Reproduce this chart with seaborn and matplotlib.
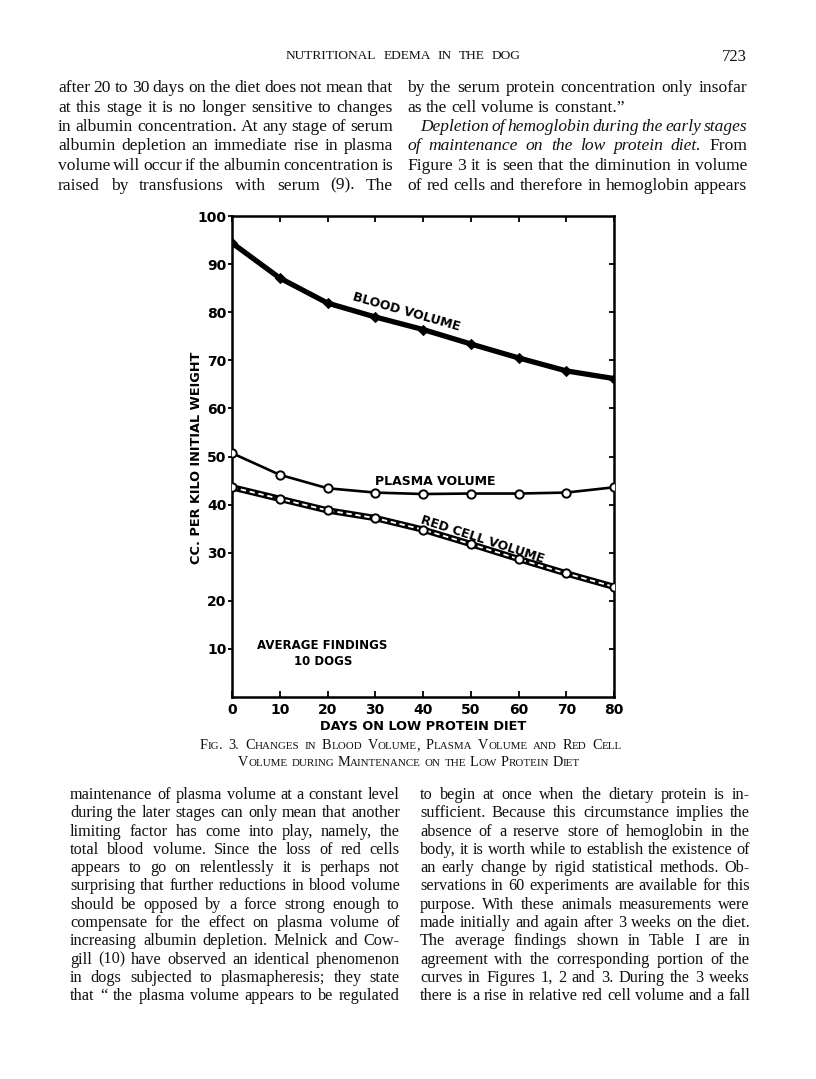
import matplotlib
matplotlib.use("Agg")
import matplotlib.pyplot as plt
import seaborn as sns

# ---------------- data ----------------
days = [0, 10, 20, 30, 40, 50, 60, 70, 80]
blood_volume = [94.4, 87.1, 81.9, 79.0, 76.4, 73.4, 70.5, 67.8, 66.2]
plasma_volume = [50.7, 46.2, 43.4, 42.5, 42.2, 42.3, 42.3, 42.5, 43.6]
red_cell_volume = [43.6, 41.2, 38.8, 37.2, 34.8, 31.8, 28.7, 25.7, 22.9]
x_ticks = [0, 10, 20, 30, 40, 50, 60, 70, 80]
y_ticks = [10, 20, 30, 40, 50, 60, 70, 80, 90, 100]

W, H = 816, 1079
sns.set_theme(style="white")
plt.rcParams["font.family"] = ["DejaVu Sans"]

fig = plt.figure(figsize=(W / 100, H / 100), dpi=100)
fig.patch.set_facecolor("white")

# axes box in page pixels
L, R, T, B = 232, 614, 216, 697
ax = fig.add_axes([L / W, 1 - B / H, (R - L) / W, (B - T) / H])
ax.set_facecolor("white")

sns.lineplot(x=days, y=blood_volume, ax=ax, color="black", linewidth=3.8,
             marker="D", markersize=5, markerfacecolor="black",
             markeredgecolor="black", zorder=3)
sns.lineplot(x=days, y=plasma_volume, ax=ax, color="black", linewidth=1.9,
             marker="o", markersize=6, markerfacecolor="white",
             markeredgecolor="black", markeredgewidth=1.4, zorder=3)
sns.lineplot(x=days, y=red_cell_volume, ax=ax, color="black", linewidth=4.6,
             zorder=3)
sns.lineplot(x=days, y=red_cell_volume, ax=ax, color="white", linewidth=1.3,
             linestyle=(0, (3, 2)), marker="o", markersize=6,
             markerfacecolor="white", markeredgecolor="black",
             markeredgewidth=1.4, zorder=4)

ax.set_xlim(0, 80)
ax.set_ylim(0, 100)
for s in ax.spines.values():
    s.set_visible(True)
    s.set_color("black")
    s.set_linewidth(1.8)

tick_font = dict(fontsize=10, fontweight="heavy", color="black")
ax.set_xticks(x_ticks)
ax.set_xticklabels([str(v) for v in x_ticks], **tick_font)
ax.set_yticks(y_ticks)
ax.set_yticklabels([str(v) for v in y_ticks], **tick_font)
ax.tick_params(axis="x", direction="in", bottom=True, top=True, length=4,
               width=1.3, color="black", pad=4)
ax.tick_params(axis="y", direction="out", left=True, right=False, length=3,
               width=1.3, color="black", pad=1)
ax.set_xlabel("")
ax.set_ylabel("")

ax2 = ax.twinx()
ax2.set_ylim(0, 100)
ax2.set_yticks(y_ticks[:-1])
ax2.tick_params(axis="y", direction="in", right=True, left=False,
                labelright=False, length=3.5, width=1.3, color="black")
for s in ax2.spines.values():
    s.set_visible(False)

lab = dict(fontweight="heavy", color="black")
ax.text(36.6, 80.0, "BLOOD VOLUME", rotation=-16, ha="center", va="center",
        rotation_mode="anchor", fontsize=9, **lab)
ax.text(42.5, 44.9, "PLASMA VOLUME", ha="center", va="center", fontsize=9, **lab)
ax.text(52.4, 32.8, "RED CELL VOLUME", rotation=-18, ha="center", va="center",
        rotation_mode="anchor", fontsize=9, **lab)
ax.text(18.8, 10.8, "AVERAGE FINDINGS", ha="center", va="center", fontsize=8.5, **lab)
ax.text(19.1, 7.3, "10 DOGS", ha="center", va="center", fontsize=8.5, **lab)

fig.text(196 / W, 1 - 458 / H, "CC. PER KILO INITIAL WEIGHT", rotation=90,
         ha="center", va="center", fontsize=9.3, **lab)
fig.text(423 / W, 1 - 726 / H, "DAYS ON LOW PROTEIN DIET", ha="center",
         va="center", fontsize=9.3, **lab)

# ---------------- page text ----------------
renderer = fig.canvas.get_renderer()
SERIF = "Liberation Serif"
INK = "#111111"


def measure(s, **p):
    t = fig.text(0, 0, s, **p)
    w = t.get_window_extent(renderer).width
    t.remove()
    return w


def put(s, x, y, **p):
    fig.text(x / W, 1 - y / H, s, ha="left", va="baseline", color=INK, **p)


def words(text, **p):
    return [[(w, dict(p))] for w in text.split()]


def smallcaps(text, big=10.0, small=7.7):
    out = []
    for w in text.split():
        runs = []
        for ch in w:
            sz = small if ch.islower() else big
            c = ch.upper()
            if runs and runs[-1][1]["fontsize"] == sz:
                runs[-1] = (runs[-1][0] + c, runs[-1][1])
            else:
                runs.append((c, dict(family=SERIF, fontsize=sz)))
        out.append(runs)
    return out


def line(ws, y, x0, x1=None, mode="left", cx=None):
    widths = [sum(measure(s, **p) for s, p in w) for w in ws]
    p0 = ws[0][0][1]
    sp = measure("a a", **p0) - measure("aa", **p0)
    if mode == "justify" and len(ws) > 1:
        need = sum(widths) + 0.6 * sp * (len(ws) - 1)
        if need > (x1 - x0):
            k = (x1 - x0) / need
            for w in ws:
                for _, p in w:
                    p["fontsize"] = p["fontsize"] * k
            widths = [sum(measure(s, **p) for s, p in w) for w in ws]
        gap = (x1 - x0 - sum(widths)) / (len(ws) - 1)
        x = x0
    elif mode == "center":
        gap = sp
        total = sum(widths) + gap * (len(ws) - 1)
        x = cx - total / 2
    else:
        gap = sp
        x = x0
    for w, wd in zip(ws, widths):
        xx = x
        for s, p in w:
            put(s, xx, y, **p)
            xx += measure(s, **p)
        x += wd + gap


# header
line(words("NUTRITIONAL  EDEMA  IN  THE  DOG", family=SERIF, fontsize=9.6), 59,
     286, 520, mode="justify")
line(words("723", family=SERIF, fontsize=12), 61, 722)

rom = dict(family=SERIF, fontsize=12.6)
ita = dict(family=SERIF, fontsize=12.6, style="italic")

top_left = [
    "after 20 to 30 days on the diet does not mean that",
    "at this stage it is no longer sensitive to changes",
    "in albumin concentration. At any stage of serum",
    "albumin depletion an immediate rise in plasma",
    "volume will occur if the albumin concentration is",
    "raised by transfusions with serum (9). The",
]
top_y = [92, 111.5, 131, 150.5, 170, 189.5]
for s, y in zip(top_left, top_y):
    line(words(s, **rom), y, 58, 393, mode="justify")

line(words("by the serum protein concentration only insofar", **rom), top_y[0], 407, 747, mode="justify")
line(words("as the cell volume is constant.\u201d", **rom), top_y[1], 407)
line(words("Depletion of hemoglobin during the early stages", **ita), top_y[2], 420, 747, mode="justify")
line(words("of maintenance on the low protein diet.", **ita) + words("From", **rom),
     top_y[3], 407, 747, mode="justify")
line(words("Figure 3 it is seen that the diminution in volume", **rom), top_y[4], 407, 747, mode="justify")
line(words("of red cells and therefore in hemoglobin appears", **rom), top_y[5], 407, 747, mode="justify")

# caption (small caps)
line(smallcaps("Fig. 3.  Changes in Blood Volume, Plasma Volume and Red Cell", 10.3, 7.9),
     749, 200, 622, mode="justify")
line(smallcaps("Volume during Maintenance on the Low Protein Diet", 10.3, 7.9),
     766, 0, mode="center", cx=409)

rom2 = dict(family=SERIF, fontsize=11.7)
bot_left = [
    "maintenance of plasma volume at a constant level",
    "during the later stages can only mean that another",
    "limiting factor has come into play, namely, the",
    "total blood volume. Since the loss of red cells",
    "appears to go on relentlessly it is perhaps not",
    "surprising that further reductions in blood volume",
    "should be opposed by a force strong enough to",
    "compensate for the effect on plasma volume of",
    "increasing albumin depletion. Melnick and Cow-",
    "gill (10) have observed an identical phenomenon",
    "in dogs subjected to plasmapheresis; they state",
    "that \u201c the plasma volume appears to be regulated",
]
bot_right = [
    "to begin at once when the dietary protein is in-",
    "sufficient. Because this circumstance implies the",
    "absence of a reserve store of hemoglobin in the",
    "body, it is worth while to establish the existence of",
    "an early change by rigid statistical methods. Ob-",
    "servations in 60 experiments are available for this",
    "purpose. With these animals measurements were",
    "made initially and again after 3 weeks on the diet.",
    "The average findings shown in Table I are in",
    "agreement with the corresponding portion of the",
    "curves in Figures 1, 2 and 3. During the 3 weeks",
    "there is a rise in relative red cell volume and a fall",
]
for i, (a, b) in enumerate(zip(bot_left, bot_right)):
    y = 799 + i * 18.3
    line(words(a, **rom2), y, 70, 400, mode="justify")
    line(words(b, **rom2), y, 420, 750, mode="justify")

fig.savefig("out.png", dpi=100, facecolor="white")
